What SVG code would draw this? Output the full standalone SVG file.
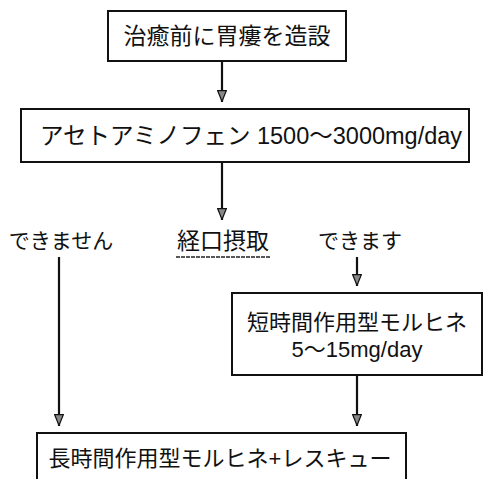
<svg xmlns="http://www.w3.org/2000/svg" width="483" height="479" viewBox="0 0 483 479">
<defs>
<marker id="ah" viewBox="0 0 12 10" refX="12" refY="5" markerWidth="12" markerHeight="10" markerUnits="userSpaceOnUse" orient="auto">
<path d="M0.6,0.6 L11.4,5 L0.6,9.4 Z" fill="#888" stroke="#111" stroke-width="1.2"/>
</marker>
</defs>
<style>
.box{fill:#fff;stroke:#111;stroke-width:2}
.t{font-family:"Liberation Sans","Noto Sans CJK JP",sans-serif;font-size:22px;fill:#111}
.c{stroke:#111;stroke-width:2.2;fill:none}
</style>
<rect width="483" height="479" fill="#fff"/>
<g id="connectors">
<line class="c" x1="222" y1="61" x2="222" y2="102" marker-end="url(#ah)"/>
<line class="c" x1="222" y1="162" x2="222" y2="220" marker-end="url(#ah)"/>
<line class="c" x1="357" y1="257" x2="357" y2="286" marker-end="url(#ah)"/>
<line class="c" x1="59" y1="257" x2="59" y2="426" marker-end="url(#ah)"/>
<line class="c" x1="357" y1="375" x2="357" y2="426" marker-end="url(#ah)"/>
</g>
<g id="n1">
<rect class="box" x="108" y="11" width="238" height="50"/>
<text class="t" x="227" y="44" text-anchor="middle" style="font-size:23px">治癒前に胃瘻を造設</text>
</g>
<g id="n2">
<rect class="box" x="21" y="109" width="448" height="53"/>
<text class="t" x="251" y="144" text-anchor="middle" style="font-size:23.5px">アセトアミノフェン 1500～3000mg/day</text>
</g>
<g id="l1">
<text class="t" x="61" y="248" text-anchor="middle" style="font-size:21px">できません</text>
</g>
<g id="l2">
<text class="t" x="223" y="249" text-anchor="middle" style="font-size:23px">経口摂取</text>
<line x1="176" y1="257" x2="270" y2="257" stroke="#222" stroke-width="1.4" stroke-dasharray="4,1"/>
</g>
<g id="l3">
<text class="t" x="360" y="248" text-anchor="middle" style="font-size:21px">できます</text>
</g>
<g id="n3">
<rect class="box" x="232" y="293" width="250" height="82"/>
<text class="t" x="357" y="330" text-anchor="middle">短時間作用型モルヒネ</text>
<text class="t" x="357" y="357" text-anchor="middle">5～15mg/day</text>
</g>
<g id="n4">
<rect class="box" x="37" y="433" width="369" height="60"/>
<text class="t" x="220" y="466" text-anchor="middle">長時間作用型モルヒネ+レスキュー</text>
</g>
</svg>
